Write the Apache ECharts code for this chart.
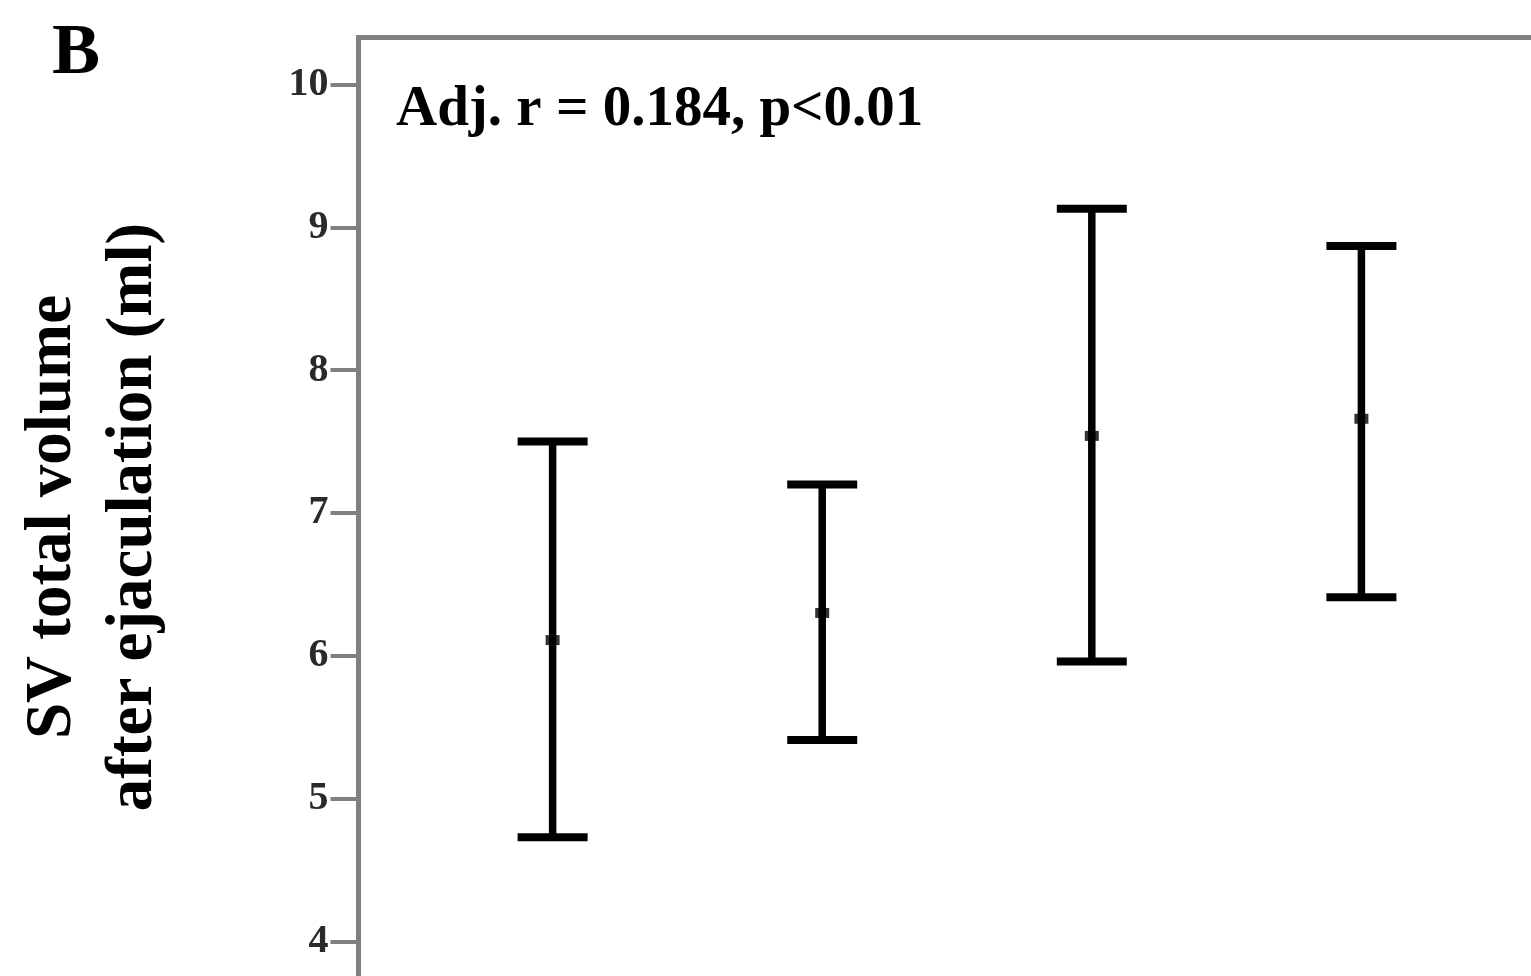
<!DOCTYPE html>
<html>
<head>
<meta charset="utf-8">
<script src="https://cdn.jsdelivr.net/npm/echarts@6/dist/echarts.min.js"></script>
<style>
html,body{margin:0;padding:0;background:#fff;overflow:hidden;}
#chart{width:1700px;height:1150px;}
</style>
</head>
<body>
<div id="chart"></div>
<script>
// Data
const groups = [1, 2, 3, 4];
const means = [6.11, 6.30, 7.54, 7.66];
const upper = [7.50, 7.20, 9.13, 8.87];
const lower = [4.73, 5.41, 5.96, 6.41];
const yTicks = [4, 5, 6, 7, 8, 9, 10];
const panelLabel = 'B';
const annotation = 'Adj. r = 0.184, p<0.01';
const yTitle1 = 'SV total volume';
const yTitle2 = 'after ejaculation (ml)';

const serif = '"Liberation Serif", "DejaVu Serif", serif';
const chart = echarts.init(document.getElementById('chart'));

const barData = groups.map((g, i) => [g, lower[i], upper[i]]);
const meanData = groups.map((g, i) => [g, means[i]]);

chart.setOption({
  animation: false,
  backgroundColor: '#fff',
  grid: {
    left: 358.5, top: 37.5, width: 1272.5, height: 1046.7,
    show: true, borderColor: '#808080', borderWidth: 5, backgroundColor: 'transparent'
  },
  xAxis: { type: 'value', min: 0.28, max: 5, show: false },
  yAxis: {
    type: 'value', min: 3, max: 10.33,
    splitLine: { show: false },
    axisLine: { show: true, lineStyle: { color: '#808080', width: 5 } },
    axisTick: { show: true, length: 28, customValues: yTicks, lineStyle: { color: '#808080', width: 4 } },
    axisLabel: {
      customValues: yTicks, margin: 30, padding: [6, 0, 0, 0],
      fontFamily: serif, fontWeight: 'bold', fontSize: 40, color: '#2a2a2a'
    }
  },
  graphic: [
    { type: 'text', left: 52, top: 18, style: { text: panelLabel, font: 'bold 72px ' + serif, fill: '#000' } },
    { type: 'text', x: 396, y: 110, style: { text: annotation, font: 'bold 57px ' + serif, fill: '#000', textAlign: 'left', textVerticalAlign: 'middle' } },
    { type: 'text', x: 53, y: 517, rotation: Math.PI / 2, style: { text: yTitle1, font: 'bold 65px ' + serif, fill: '#000', textAlign: 'center', textVerticalAlign: 'middle' } },
    { type: 'text', x: 134, y: 517, rotation: Math.PI / 2, style: { text: yTitle2, font: 'bold 65px ' + serif, fill: '#000', textAlign: 'center', textVerticalAlign: 'middle' } }
  ],
  series: [
    {
      type: 'custom',
      data: barData,
      renderItem: function (params, api) {
        const x = api.value(0);
        const pLo = api.coord([x, api.value(1)]);
        const pHi = api.coord([x, api.value(2)]);
        const hw = 35;
        const st = { stroke: '#000', lineWidth: 8 };
        return {
          type: 'group',
          children: [
            { type: 'line', shape: { x1: pHi[0], y1: pHi[1], x2: pLo[0], y2: pLo[1] }, style: { stroke: '#000', lineWidth: 7.5 } },
            { type: 'line', shape: { x1: pHi[0] - hw, y1: pHi[1], x2: pHi[0] + hw, y2: pHi[1] }, style: st },
            { type: 'line', shape: { x1: pLo[0] - hw, y1: pLo[1], x2: pLo[0] + hw, y2: pLo[1] }, style: st }
          ]
        };
      },
      z: 2
    },
    {
      type: 'scatter',
      data: meanData,
      symbol: 'rect',
      symbolSize: [14, 10],
      itemStyle: { color: '#000' },
      z: 3
    }
  ]
});
</script>
</body>
</html>
